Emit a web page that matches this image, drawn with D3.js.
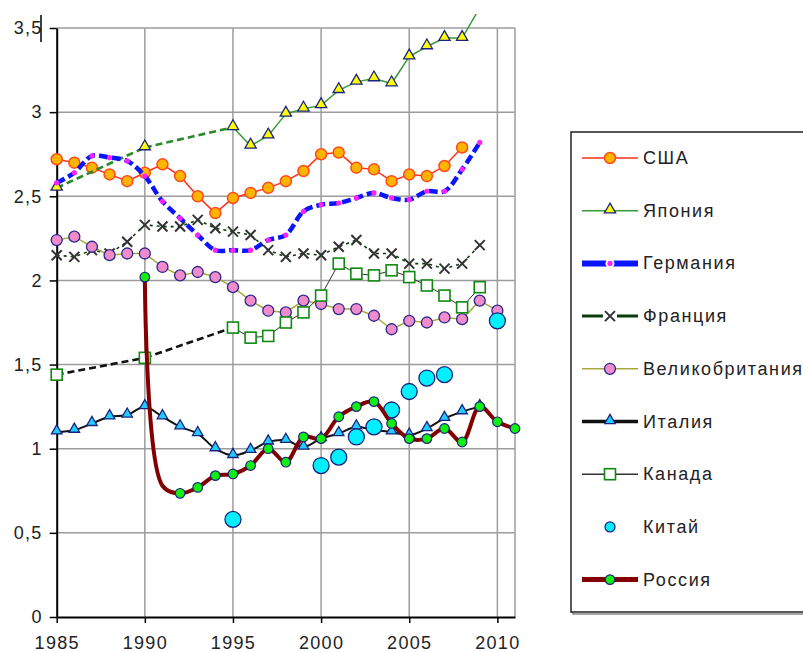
<!DOCTYPE html>
<html>
<head>
<meta charset="utf-8">
<script src="https://cdn.jsdelivr.net/npm/d3@7"></script>
<style>
  body { margin: 0; background: #fff; }
  text { font-family: Arial, "Liberation Sans", sans-serif; }
</style>
</head>
<body>
<script>
// years on the x axis, one slot per year, null = no value
var years = [1985, 1986, 1987, 1988, 1989, 1990, 1991, 1992, 1993, 1994, 1995, 1996, 1997, 1998,
             1999, 2000, 2001, 2002, 2003, 2004, 2005, 2006, 2007, 2008, 2009, 2010, 2011];
var xTicks = [1985, 1990, 1995, 2000, 2005, 2010];
var yTicks = [0, 0.5, 1, 1.5, 2, 2.5, 3, 3.5];

var usa = [2.72, 2.70, 2.67, 2.63, 2.59, 2.64, 2.69, 2.62, 2.50, 2.40, 2.49, 2.52, 2.55, 2.59,
           2.65, 2.75, 2.76, 2.67, 2.66, 2.59, 2.63, 2.62, 2.68, 2.79, null, null, null];
var japan = [2.55, null, null, null, null, 2.79, null, null, null, null, 2.91, 2.80, 2.86, 2.99,
             3.02, 3.04, 3.13, 3.18, 3.20, 3.17, 3.33, 3.39, 3.44, 3.44, 3.62, null, null];
var germany = [2.58, 2.64, 2.74, 2.73, 2.71, 2.62, 2.47, 2.37, 2.27, 2.18, 2.18, 2.18, 2.24, 2.27,
               2.41, 2.45, 2.46, 2.49, 2.52, 2.49, 2.48, 2.53, 2.53, 2.66, 2.82, null, null];
var france = [2.15, 2.14, 2.18, 2.16, 2.23, 2.33, 2.32, 2.32, 2.36, 2.31, 2.29, 2.27, 2.18, 2.14,
              2.16, 2.15, 2.20, 2.24, 2.16, 2.16, 2.10, 2.10, 2.07, 2.10, 2.21, null, null];
var uk = [2.24, 2.26, 2.20, 2.15, 2.16, 2.16, 2.08, 2.03, 2.05, 2.02, 1.96, 1.88, 1.82, 1.81,
          1.88, 1.86, 1.83, 1.83, 1.79, 1.71, 1.76, 1.75, 1.78, 1.77, 1.88, 1.82, null];
var italy = [1.10, 1.11, 1.15, 1.19, 1.20, 1.25, 1.19, 1.13, 1.09, 1.00, 0.96, 0.99, 1.04, 1.05,
             1.01, 1.06, 1.09, 1.13, 1.11, 1.10, 1.08, 1.12, 1.18, 1.22, 1.25, null, null];
var canada = [1.44, null, null, null, null, 1.54, null, null, null, null, 1.72, 1.66, 1.67, 1.75,
              1.81, 1.91, 2.10, 2.04, 2.03, 2.06, 2.02, 1.97, 1.91, 1.84, 1.96, null, null];
var china = [null, null, null, null, null, null, null, null, null, null, 0.58, null, null, null,
             null, 0.90, 0.95, 1.07, 1.13, 1.23, 1.34, 1.42, 1.44, null, null, 1.76, null];
var russia = [null, null, null, null, null, 2.02, 0.78, 0.735, 0.77, 0.84, 0.85, 0.90, 1.00, 0.92,
              1.07, 1.06, 1.19, 1.25, 1.28, 1.15, 1.06, 1.06, 1.12, 1.04, 1.25, 1.16, 1.12];
var russiaNoMarker = [1991];

var w = 803, h = 652;

var x = d3.scaleLinear().domain([1985, 2011]).range([56.7, 515]);
var y = d3.scaleLinear().domain([0, 3.5]).range([617, 28]);

var svg = d3.select('body').append('svg')
  .attr('width', w)
  .attr('height', h);

svg.append('clipPath').attr('id', 'clip')
  .append('rect').attr('x', 0).attr('y', 14).attr('width', w).attr('height', h);

// grid
var grid = svg.append('g');
grid.selectAll('line.h')
  .data(yTicks.slice(1))
  .enter().append('line')
    .attr('x1', x(1985)).attr('x2', x(2011))
    .attr('y1', d => y(d)).attr('y2', d => y(d))
    .attr('stroke', '#9c9c9c').attr('stroke-width', 1.5);
grid.selectAll('line.v')
  .data(xTicks.slice(1).concat([2011]))
  .enter().append('line')
    .attr('x1', d => x(d)).attr('x2', d => x(d))
    .attr('y1', y(3.5)).attr('y2', y(0))
    .attr('stroke', '#9c9c9c').attr('stroke-width', 1.5);

// axes
var yAxis = svg.append('g')
  .attr('transform', 'translate(' + x(1985) + ',0)')
  .call(d3.axisLeft(y).tickValues(yTicks).tickSize(7).tickSizeOuter(0).tickPadding(7)
    .tickFormat(d => String(d).replace('.', ',')));
var xAxis = svg.append('g')
  .attr('transform', 'translate(0,' + y(0) + ')')
  .call(d3.axisBottom(x).tickValues(xTicks).tickSize(6).tickSizeOuter(0).tickPadding(13)
    .tickFormat(d => d));
[yAxis, xAxis].forEach(function(a) {
  a.select('.domain').attr('stroke', '#000').attr('stroke-width', 2);
  a.selectAll('.tick line').attr('stroke', '#000').attr('stroke-width', 1.5);
  a.selectAll('text').attr('font-size', '18px').attr('fill', '#222')
    .attr('letter-spacing', '1.3px');
});

// little bar next to "3,5"
svg.append('line')
  .attr('x1', 41).attr('x2', 41).attr('y1', 15).attr('y2', 42)
  .attr('stroke', '#000').attr('stroke-width', 1.5);

var xMark = 'M-5,-5L5,5M5,-5L-5,5';

function drawMarker(g, s, cx, cy) {
  if (s.marker === 'circle') {
    g.append('circle').attr('cx', cx).attr('cy', cy).attr('r', s.r)
      .attr('fill', s.fill).attr('stroke', s.stroke).attr('stroke-width', s.sw || 1);
  } else if (s.marker === 'triangle') {
    g.append('path').attr('d', d3.symbol(d3.symbolTriangle, s.size)())
      .attr('transform', 'translate(' + cx + ',' + (cy - 1) + ')')
      .attr('fill', s.fill).attr('stroke', s.stroke).attr('stroke-width', 1.3);
  } else if (s.marker === 'square') {
    g.append('rect').attr('x', cx - 5.5).attr('y', cy - 5.5).attr('width', 11).attr('height', 11)
      .attr('fill', '#fff').attr('stroke', s.stroke).attr('stroke-width', 1.6);
  } else if (s.marker === 'x') {
    g.append('path').attr('d', xMark).attr('transform', 'translate(' + cx + ',' + cy + ')')
      .attr('stroke', s.stroke).attr('stroke-width', 2).attr('fill', 'none');
  } else if (s.marker === 'dot') {
    g.append('circle').attr('cx', cx).attr('cy', cy).attr('r', 2.6).attr('fill', s.fill);
  }
}

var series = [
  {name: 'США', values: usa, color: '#ff3018', width: 1.5, marker: 'circle', fill: '#ffb400', stroke: '#ff4a1a', r: 5.5, sw: 1.5},
  {name: 'Япония', values: japan, color: '#3a9a3a', width: 1.5, marker: 'triangle', fill: '#ffff00', stroke: '#1a237e', size: 55, gap: '#2a8a2a'},
  {name: 'Германия', values: germany, color: '#0a14ff', width: 4.5, dash: '9,4', curve: true, marker: 'dot', fill: '#ff22ff'},
  {name: 'Франция', values: france, color: '#0b3d0b', width: 1.6, dash: '3,4', marker: 'x', stroke: '#333'},
  {name: 'Великобритания', values: uk, color: '#a8a840', width: 1.5, marker: 'circle', fill: '#f08ccc', stroke: '#2a2a8a', r: 5.5, sw: 1.3},
  {name: 'Италия', values: italy, color: '#111', width: 2, curve: true, marker: 'triangle', fill: '#22ccff', stroke: '#1a237e', size: 48},
  {name: 'Канада', values: canada, color: '#333', width: 1, marker: 'square', stroke: '#118811', gap: '#111'},
  {name: 'Китай', values: china, marker: 'circle', fill: '#00f0ff', stroke: '#1a237e', r: 8, sw: 1.3},
  {name: 'Россия', values: russia, color: '#820000', width: 4, curve: true, marker: 'circle', fill: '#11ee11', stroke: '#1a237e', r: 4.8, sw: 1.2, skip: russiaNoMarker}
];

var plot = svg.append('g').attr('clip-path', 'url(#clip)');

series.forEach(function(s) {
  var pts = years.map((yr, i) => ({yr: yr, v: s.values[i]}));
  var g = plot.append('g');
  if (s.color) {
    var line = d3.line()
      .defined(d => d.v !== null)
      .x(d => x(d.yr))
      .y(d => y(d.v));
    if (s.curve) line.curve(d3.curveCatmullRom.alpha(0.5));
    g.append('path').datum(pts)
      .attr('d', line)
      .attr('fill', 'none')
      .attr('stroke', s.color)
      .attr('stroke-width', s.width)
      .attr('stroke-dasharray', s.dash || null);
    // dashed bridges over missing years
    if (s.gap) {
      var def = pts.filter(d => d.v !== null);
      for (var i = 1; i < def.length; i++) {
        if (def[i].yr - def[i-1].yr > 1) {
          g.append('line')
            .attr('x1', x(def[i-1].yr)).attr('y1', y(def[i-1].v))
            .attr('x2', x(def[i].yr)).attr('y2', y(def[i].v))
            .attr('stroke', s.gap).attr('stroke-width', 2.6)
            .attr('stroke-dasharray', '7,4');
        }
      }
    }
  }
  pts.forEach(function(d) {
    if (d.v === null || d.v > 3.5) return;
    if (s.skip && s.skip.indexOf(d.yr) >= 0) return;
    drawMarker(g, s, x(d.yr), y(d.v));
  });
});

// legend
var legend = svg.append('g').attr('transform', 'translate(571,132)');
legend.append('rect')
  .attr('x', 2).attr('y', 2).attr('width', 260).attr('height', 480)
  .attr('fill', 'none').attr('stroke', '#888').attr('stroke-width', 1.5);
legend.append('rect')
  .attr('width', 260).attr('height', 480)
  .attr('fill', '#fff').attr('stroke', '#222').attr('stroke-width', 1.5);

var legendWidths = [1.5, 1.5, 6, 3, 1.5, 3.5, 1.5, 0, 5];
series.forEach(function(s, i) {
  var cy = 26 + i * 52.7;
  var item = legend.append('g');
  if (s.color) {
    item.append('line')
      .attr('x1', 11).attr('x2', 67).attr('y1', cy).attr('y2', cy)
      .attr('stroke', s.color).attr('stroke-width', legendWidths[i]);
  }
  if (s.marker === 'dot') {
    item.append('circle').attr('cx', 39).attr('cy', cy).attr('r', 4.5).attr('fill', '#fff');
  }
  if (s.marker === 'x') {
    item.append('rect').attr('x', 32).attr('y', cy - 3).attr('width', 14).attr('height', 6).attr('fill', '#fff');
  }
  var ms = Object.assign({}, s);
  if (s.name === 'Китай') ms.r = 5;
  drawMarker(item, ms, 39, cy);
  item.append('text')
    .attr('x', 72).attr('y', cy + 6)
    .attr('font-size', '18px').attr('fill', '#222')
    .attr('letter-spacing', '1.6px')
    .text(s.name);
});
</script>
</body>
</html>
